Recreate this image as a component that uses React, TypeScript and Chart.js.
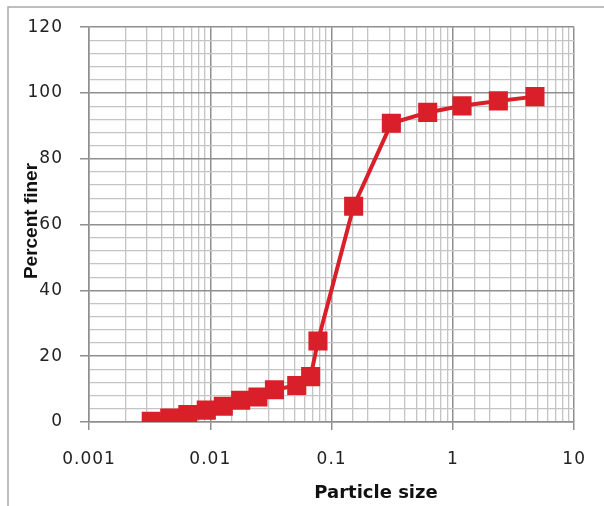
import React, { useEffect, useRef } from 'react';
import { Chart, registerables } from 'chart.js';

Chart.register(...registerables);

// ---- data ----
const particleSize = [0.00326, 0.00463, 0.00653, 0.00927, 0.0128, 0.0178, 0.0247, 0.0338, 0.0516, 0.0672, 0.0772, 0.152, 0.311, 0.62, 1.19, 2.37, 4.75];
const percentFiner = [0.2, 1.2, 2.3, 3.6, 4.8, 6.6, 7.6, 9.8, 11.1, 13.8, 24.6, 65.6, 90.8, 94.1, 96.1, 97.6, 98.9];
const xTickLabels = ['0.001', '0.01', '0.1', '1', '10'];
const yTickLabels = [0, 20, 40, 60, 80, 100, 120];
const xTitle = 'Particle size';
const yTitle = 'Percent finer';

const RED = '#d91f2a';
const MINOR = '#c4c4c4';
const MAJOR = '#8f8f8f';

const isMajorX = (v: number) => {
  const l = Math.log10(v);
  return Math.abs(l - Math.round(l)) < 1e-6;
};
const xLabelFor = (v: number) => {
  const found = xTickLabels.find((s) => Math.abs(Number(s) - v) / v < 1e-6);
  return found ?? '';
};
const isMajorY = (v: number) => yTickLabels.includes(v);

const deco = {
  id: 'deco',
  beforeDraw(chart: any) {
    chart.ctx.letterSpacing = '1px';
  },
  afterDraw(chart: any) {
    const { ctx } = chart;
    ctx.save();
    ctx.letterSpacing = '0px';
    ctx.strokeStyle = '#a9a9a9';
    ctx.lineWidth = 1.5;
    ctx.beginPath();
    ctx.moveTo(8, 506);
    ctx.lineTo(8, 7);
    ctx.lineTo(604, 7);
    ctx.stroke();
    ctx.fillStyle = '#111';
    ctx.textAlign = 'center';
    ctx.textBaseline = 'alphabetic';
    ctx.font = 'bold 18px "DejaVu Sans"';
    ctx.fillText(xTitle, 376, 498);
    ctx.translate(37, 221);
    ctx.rotate(-Math.PI / 2);
    ctx.font = 'bold 19px "Liberation Sans"';
    ctx.fillText(yTitle, 0, 0);
    ctx.restore();
  },
};

export default function App() {
  const ref = useRef<HTMLCanvasElement | null>(null);
  useEffect(() => {
    if (!ref.current) return;
    const chart = new Chart(ref.current, {
      type: 'line',
      data: {
        datasets: [
          {
            data: particleSize.map((x, i) => ({ x, y: percentFiner[i] })),
            borderColor: RED,
            backgroundColor: RED,
            borderWidth: 4,
            pointStyle: 'rect',
            pointRadius: 13.5,
            pointBorderWidth: 0,
            pointBackgroundColor: RED,
            tension: 0,
          },
        ],
      },
      options: {
        animation: false,
        responsive: false,
        layout: { padding: { top: 22, right: 24, left: 0, bottom: 0 } },
        plugins: { legend: { display: false }, tooltip: { enabled: false } },
        scales: {
          x: {
            type: 'logarithmic',
            min: 0.001,
            max: 10,
            afterFit: (s: any) => { s.height = 84; },
            border: { color: MAJOR, width: 1.5 },
            grid: {
              color: (c: any) => (c.tick && isMajorX(c.tick.value) ? MAJOR : MINOR),
              lineWidth: (c: any) => (c.tick && isMajorX(c.tick.value) ? 1.5 : 1.3),
              tickColor: (c: any) => (c.tick && isMajorX(c.tick.value) ? MAJOR : 'rgba(0,0,0,0)'),
              tickLength: 8,
            },
            ticks: {
              autoSkip: false,
              maxRotation: 0,
              minRotation: 0,
              padding: 19,
              color: '#222',
              font: { family: '"DejaVu Sans"', size: 17 },
              callback: (v: any) => xLabelFor(Number(v)),
            },
          },
          y: {
            type: 'linear',
            min: 0,
            max: 120,
            afterFit: (s: any) => { s.width = 89; },
            border: { color: MAJOR, width: 1.5 },
            grid: {
              color: (c: any) => (c.tick && isMajorY(c.tick.value) ? MAJOR : MINOR),
              lineWidth: (c: any) => (c.tick && isMajorY(c.tick.value) ? 1.5 : 1.3),
              tickColor: (c: any) => (c.tick && isMajorY(c.tick.value) ? MAJOR : 'rgba(0,0,0,0)'),
              tickLength: 9,
            },
            ticks: {
              stepSize: 4,
              autoSkip: false,
              padding: 17,
              color: '#222',
              font: { family: '"DejaVu Sans"', size: 17 },
              callback: (v: any) => (isMajorY(Number(v)) ? String(v) : ''),
            },
          },
        },
      },
      plugins: [deco],
    });
    return () => chart.destroy();
  }, []);
  return (
    <div style={{ position: 'fixed', left: 0, top: 0, width: 604, height: 506, background: '#fff', overflow: 'hidden' }}>
      <canvas ref={ref} width={604} height={506} style={{ display: 'block' }} />
    </div>
  );
}
